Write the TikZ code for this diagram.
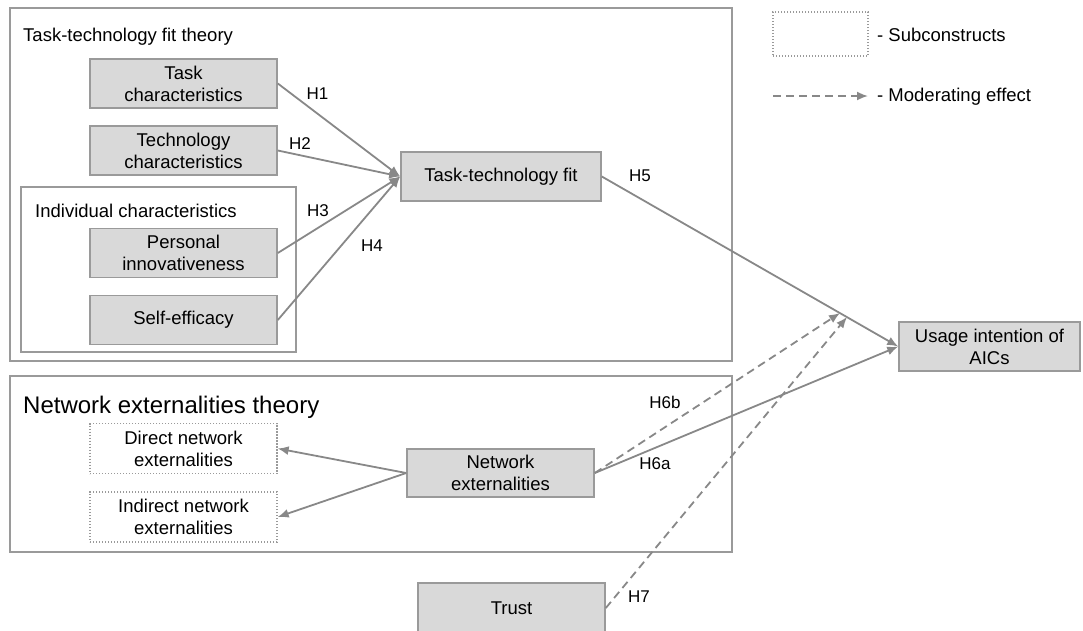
\documentclass[tikz,border=0pt]{standalone}
\usepackage{fontspec}
\setmainfont{Liberation Sans}
\usetikzlibrary{arrows.meta}
\definecolor{boxfill}{HTML}{D9D9D9}
\definecolor{framegray}{HTML}{9A9A9A}
\definecolor{linegray}{HTML}{888888}
\tikzset{
	construct/.style={draw=framegray, line width=1.6pt, fill=boxfill, minimum width=187pt, minimum height=49pt, align=center, inner sep=0pt, font=\fontsize{18.5}{22}\selectfont},
	subconstruct/.style={draw=framegray, line width=1.3pt, dash pattern=on 1.3pt off 1.7pt, minimum width=187pt, minimum height=50pt, align=center, inner sep=0pt, font=\fontsize{18.5}{22}\selectfont},
	frame/.style={draw=framegray, line width=1.8pt},
	title/.style={anchor=base west, inner sep=0pt, font=\fontsize{18.5}{22}\selectfont},
	hyp/.style={inner sep=0pt, font=\fontsize{17}{20}\selectfont},
	effect/.style={draw=linegray, line width=1.8pt, -{Latex[length=11pt,width=9pt]}},
	moderation/.style={effect, dash pattern=on 8pt off 5pt},
}

\begin{document}
\begin{tikzpicture}[x=1pt, y=-1pt]
			%%%%% START %%%%%
			\useasboundingbox (0, 0) rectangle (1083, 630);
			
			% task-technology fit theory
			\draw[frame] (10, 8) rectangle (732, 361);
			\node[title] (ttftheory) at (23, 41) {Task-technology fit theory};
			\draw[frame] (21, 187) rectangle (296, 352);
			\node[title] (indiv) at (35, 217) {Individual characteristics};
			
			\node[construct] (task) at (183.5, 83.5) {Task\\characteristics};
			\node[construct] (tech) at (183.5, 150.5) {Technology\\characteristics};
			\node[construct] (pers) at (183.5, 253) {Personal\\innovativeness};
			\node[construct] (self) at (183.5, 320) {Self-efficacy};
			\node[construct, minimum width=200pt] (ttf) at (501, 176.5) {Task-technology fit};
			
			\node[construct, minimum width=181pt] (usage) at (989.5, 346.5) {Usage intention of\\AICs};
			
			% network externalities theory
			\draw[frame] (10, 376) rectangle (732, 552);
			\node[title, font=\fontsize{24}{28}\selectfont] (nettheory) at (23, 413) {Network externalities theory};
			\node[subconstruct] (direct) at (183.5, 448.5) {Direct network\\externalities};
			\node[subconstruct] (indirect) at (183.5, 517) {Indirect network\\externalities};
			\node[construct, minimum height=48pt] (netext) at (500.5, 473) {Network\\externalities};
			
			\node[construct, minimum height=50pt] (trust) at (511.5, 608) {Trust};
			
			% legend
			\node[subconstruct, minimum width=95pt, minimum height=44pt] (legbox) at (820.5, 34) {};
			\node[title] (legsub) at (877, 41) {- Subconstructs};
			\coordinate (legfrom) at (773, 96);
			\coordinate (legto) at (868, 96);
			\draw[moderation] (legfrom) -- (legto);
			\node[title] (legmod) at (877, 101) {- Moderating effect};
			
			% hypotheses
			\draw[effect] (task.east) -- (ttf.west);
			\draw[effect] (tech.east) -- (ttf.west);
			\draw[effect] (pers.east) -- (ttf.west);
			\draw[effect] (self.east) -- (ttf.west);
			\draw[effect] (ttf.east) -- (usage.west);
			\draw[effect] (netext.east) -- (usage.west);
			\draw[effect] (netext.west) -- (direct.east);
			\draw[effect] (netext.west) -- (indirect.east);
			
			\coordinate (modnet) at (840, 313);
			\coordinate (modtrust) at (847, 317);
			\draw[moderation] (netext.east) -- (modnet);
			\draw[moderation] (trust.east) -- (modtrust);
			
			\node[hyp] (h1) at (317.5, 94) {H1};
			\node[hyp] (h2) at (300, 144) {H2};
			\node[hyp] (h3) at (318, 211) {H3};
			\node[hyp] (h4) at (372, 246) {H4};
			\node[hyp] (h5) at (640, 176) {H5};
			\node[hyp] (h6b) at (665, 402) {H6b};
			\node[hyp] (h6a) at (655, 464) {H6a};
			\node[hyp] (h7) at (639, 597) {H7};
			
			%%%%% END %%%%%
\end{tikzpicture}
\end{document}
